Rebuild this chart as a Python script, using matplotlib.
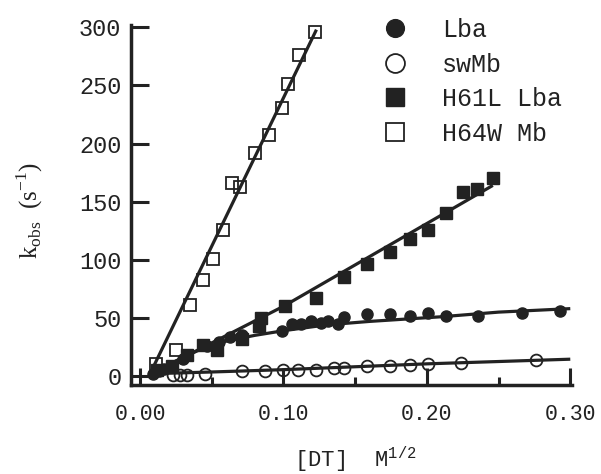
import matplotlib
matplotlib.use("Agg")
import matplotlib.pyplot as plt
from matplotlib.ticker import FixedLocator

plt.rcParams['mathtext.fontset'] = 'custom'
plt.rcParams['mathtext.rm'] = 'Liberation Serif'
plt.rcParams['mathtext.tt'] = 'Liberation Mono'

# ---- data ----
lba_x = [0.009, 0.013, 0.017, 0.022, 0.030, 0.047, 0.055, 0.063, 0.071, 0.099,
         0.106, 0.112, 0.119, 0.126, 0.131, 0.138, 0.142, 0.158, 0.174, 0.188,
         0.201, 0.213, 0.236, 0.266, 0.293]
lba_y = [2, 4, 6, 9, 15, 26, 29, 34, 35, 39,
         45, 45, 47, 46, 47, 45, 51, 53, 53, 52,
         54, 52, 52, 54, 56]

swmb_x = [0.023, 0.028, 0.033, 0.045, 0.071, 0.087, 0.100, 0.110, 0.123, 0.135,
          0.142, 0.158, 0.174, 0.188, 0.201, 0.224, 0.276]
swmb_y = [0.5, 0.5, 1, 2, 4, 4, 5, 5, 5.5, 7,
          7, 8.5, 8.5, 9.5, 10, 11, 14]

h61l_x = [0.012, 0.022, 0.033, 0.044, 0.054, 0.071, 0.083, 0.084, 0.101, 0.123,
          0.142, 0.158, 0.174, 0.188, 0.201, 0.213, 0.225, 0.235, 0.246]
h61l_y = [5, 9, 18, 27, 22, 32, 43, 50, 60, 67,
          85, 96, 107, 118, 126, 140, 158, 161, 170]

h64w_x = [0.011, 0.025, 0.035, 0.044, 0.051, 0.058, 0.064, 0.070, 0.080, 0.090,
          0.099, 0.103, 0.111, 0.122]
h64w_y = [10, 22, 61, 83, 101, 126, 166, 163, 192, 207,
          231, 251, 276, 296]

# fitted curves as drawn in the figure
lba_fit_x = [0.008, 0.020, 0.030, 0.044, 0.060, 0.080, 0.100, 0.130, 0.160, 0.210, 0.250, 0.300]
lba_fit_y = [2, 10, 16, 24, 30, 35, 39, 44, 47, 51, 55, 58]
swmb_fit_x = [0.008, 0.050, 0.100, 0.150, 0.200, 0.250, 0.300]
swmb_fit_y = [2, 3.5, 5.5, 8, 10.5, 12.5, 14.5]
h61l_fit_x = [0.008, 0.100, 0.246]
h61l_fit_y = [2, 60, 164]
h64w_fit_x = [0.007, 0.123]
h64w_fit_y = [2, 298]

labels = ["Lba", "swMb", "H61L Lba", "H64W Mb"]
xticks = [0.00, 0.10, 0.20, 0.30]
xtick_labels = ["0.00", "0.10", "0.20", "0.30"]
xminor = [0.05, 0.15, 0.25]
yticks = [0, 50, 100, 150, 200, 250, 300]

# ---- plot ----
W, H = 601, 474
fig = plt.figure(figsize=(W / 100, H / 100), dpi=100)
ax = fig.add_axes([131 / W, 1 - 385 / H, (572 - 131) / W, (385 - 25) / H])

ink = '#222222'
lw = 2.3
for fx, fy in [(lba_fit_x, lba_fit_y), (swmb_fit_x, swmb_fit_y),
               (h61l_fit_x, h61l_fit_y), (h64w_fit_x, h64w_fit_y)]:
    ax.plot(fx, fy, color=ink, lw=lw, zorder=2, solid_capstyle='butt')

ax.plot(lba_x, lba_y, 'o', ms=8, mfc=ink, mec=ink, ls='none', label=labels[0], zorder=3)
ax.plot(swmb_x, swmb_y, 'o', ms=8.5, mfc='none', mec=ink, mew=1.3, ls='none', label=labels[1], zorder=3)
ax.plot(h61l_x, h61l_y, 's', ms=8.5, mfc=ink, mec=ink, ls='none', label=labels[2], zorder=3)
ax.plot(h64w_x, h64w_y, 's', ms=8.5, mfc='none', mec=ink, mew=1.3, ls='none', label=labels[3], zorder=3)

ax.set_xlim(-0.0063, 0.3012)
ax.set_ylim(-7.7, 302)
ax.spines['top'].set_visible(False)
ax.spines['right'].set_visible(False)
for s in ['left', 'bottom']:
    ax.spines[s].set_linewidth(2.5)
    ax.spines[s].set_color(ink)

ax.xaxis.set_major_locator(FixedLocator(xticks))
ax.set_xticklabels(xtick_labels)
ax.xaxis.set_minor_locator(FixedLocator(xminor))
ax.set_yticks(yticks)
ax.tick_params(axis='x', which='major', direction='in', length=12, width=2.2, color=ink, pad=14)
ax.tick_params(axis='x', which='minor', direction='in', length=6, width=2.2, color=ink)
ax.tick_params(axis='y', which='major', direction='in', length=13, width=2.2, color=ink, pad=7)
for lab in ax.get_xticklabels():
    lab.set_fontfamily('Liberation Mono')
    lab.set_fontsize(15.5)
    lab.set_color(ink)
for lab in ax.get_yticklabels():
    lab.set_fontfamily('Liberation Mono')
    lab.set_fontsize(17)
    lab.set_color(ink)

fig.text(355 / W, 1 - 467 / H, r"[DT]  M$^{\mathtt{1/2}}$", fontfamily='Liberation Mono',
         fontsize=16, color=ink, ha='center', va='baseline')
fig.text(30 / W, 1 - 210 / H, r"k$_{\mathrm{obs}}$  (s$^{-1}$)", fontfamily='Liberation Serif',
         fontsize=18, color=ink, ha='center', va='center', rotation=90)

leg = ax.legend(loc='upper left', bbox_to_anchor=(0.570, 1.019), frameon=False,
                prop={'family': 'Liberation Mono', 'size': 18}, handletextpad=1.4,
                labelspacing=0.42, handlelength=1.0, borderaxespad=0, borderpad=0,
                markerscale=1.6)
for t in leg.get_texts():
    t.set_color(ink)

fig.savefig("out.png", dpi=100, facecolor='white')
